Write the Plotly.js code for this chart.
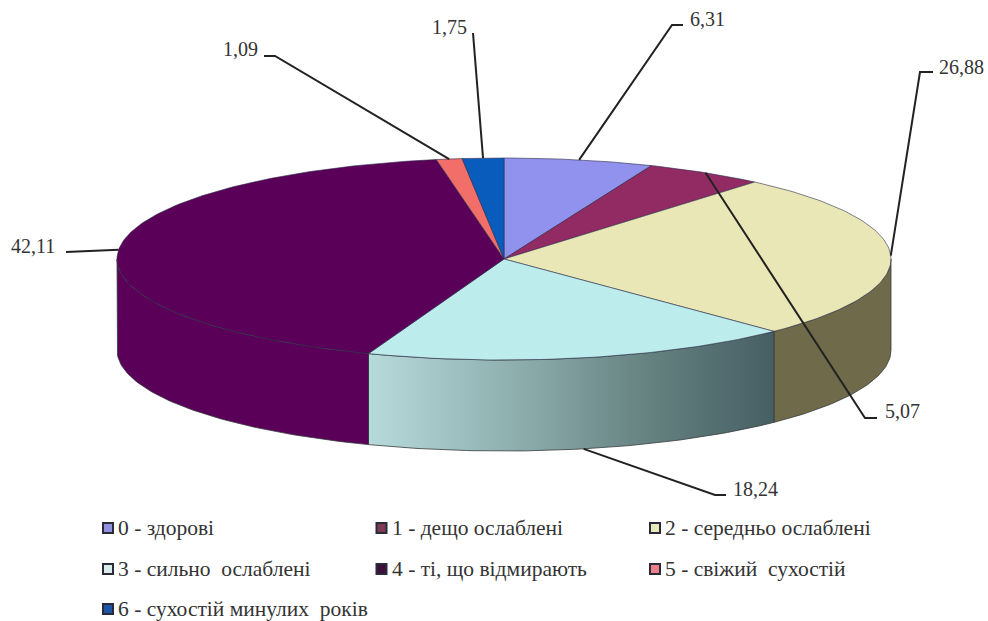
<!DOCTYPE html>
<html>
<head>
<meta charset="utf-8">
<script src="https://cdn.plot.ly/plotly-3.0.1.min.js"></script>
<style>html,body{margin:0;padding:0;background:#fff}</style>
</head>
<body>
<div id="chart" style="width:988px;height:621px"></div>
<script>
// Stand condition classes and their shares
const categories = ['0 - здорові', '1 - дещо ослаблені', '2 - середньо ослаблені',
  '3 - сильно\u00a0 ослаблені', '4 - ті, що відмирають', '5 - свіжий\u00a0 сухостій', '6 - сухостій минулих\u00a0 років'];
const shares = [6.31, 5.07, 26.88, 18.24, 42.11, 1.09, 1.75];
const shareLabels = ['6,31', '5,07', '26,88', '18,24', '42,11', '1,09', '1,75'];

// Slice colours
const topColors = ['#9191EE', '#922B63', '#E9E7B6', '#BCECEC', '#5A0059', '#F26F69', '#0A5CBC'];
const wallColors = ['#9191EE', '#922B63', '#6E6A4A', '#BCECEC', '#5A0059', '#F26F69', '#0A5CBC'];
const legendColors = ['#9090DC', '#7D3A55', '#EAEAB8', '#D8ECEC', '#3C0F3C', '#EE7F8A', '#1F55A5'];

// Disc geometry in page pixels
const cx = 504, cy = 259, rx = 387, ry = 101, depth = 91;

// Leader routes: elbow and label anchor per slice
const elbowX = [672, 865, 920, 715, 66, 275, 473];
const elbowY = [25, 418, 72, 495, 252, 56, 33];
const endX = [683, 877, 933, 726, 66, 264, 473];
const endY = [25, 418, 72, 495, 252, 56, 33];
const labelX = [688, 883, 937, 731, 57, 260, 469];
const labelY = [19, 411, 67, 489, 246, 49, 27];
const labelAnchor = ['left', 'left', 'left', 'left', 'right', 'right', 'right'];

// Legend grid
const legendCol = [108, 381.5, 655, 108, 381.5, 655, 108];
const legendRow = [528, 528, 528, 569, 569, 569, 609];

const total = shares.reduce((a, b) => a + b, 0);
const px = deg => cx + rx * Math.sin(deg * Math.PI / 180);
const py = deg => cy - ry * Math.cos(deg * Math.PI / 180);

function arc(a, b) {
  const n = Math.max(2, Math.ceil(Math.abs(b - a)));
  const out = [];
  for (let i = 0; i <= n; i++) out.push(a + (b - a) * i / n);
  return out;
}

const starts = [], ends = [];
let run = 0;
shares.forEach(v => { starts.push(run / total * 360); run += v; ends.push(run / total * 360); });

const traces = [];

// Side walls: only the part of the rim facing the viewer
shares.forEach((v, i) => {
  const a = Math.max(starts[i], 90), b = Math.min(ends[i], 270);
  if (a >= b) return;
  const rim = arc(a, b);
  const xs = rim.map(px).concat(rim.slice().reverse().map(px));
  const ys = rim.map(py).concat(rim.slice().reverse().map(d => py(d) + depth));
  const t = {
    x: xs.concat(xs[0]), y: ys.concat(ys[0]), mode: 'lines', fill: 'toself', hoverinfo: 'skip',
    showlegend: false, fillcolor: wallColors[i], line: {color: '#333a3a', width: 0.8}
  };
  if (i === 3) {
    t.fillgradient = {type: 'horizontal', colorscale: [[0, '#B7DADA'], [0.35, '#90B0B0'], [0.7, '#64807F'], [1, '#465F64']]};
  }
  traces.push(t);
});

// Top faces
shares.forEach((v, i) => {
  const rim = arc(starts[i], ends[i]);
  traces.push({
    x: [cx].concat(rim.map(px), cx), y: [cy].concat(rim.map(py), cy),
    mode: 'lines', fill: 'toself', fillcolor: topColors[i], hoverinfo: 'text',
    text: categories[i] + ': ' + shareLabels[i], showlegend: false,
    line: {color: '#2c2c4a', width: 0.6}
  });
});

// Leader lines start on the rim at each slice's middle angle
shares.forEach((v, i) => {
  const mid = (starts[i] + ends[i]) / 2;
  const onWall = i === 3;
  traces.push({
    x: [px(mid), elbowX[i], endX[i]],
    y: [py(mid) + (onWall ? depth : 0), elbowY[i], endY[i]],
    mode: 'lines', hoverinfo: 'skip', showlegend: false,
    line: {color: '#222', width: 2}
  });
});

// Legend swatches
traces.push({
  x: legendCol, y: legendRow, mode: 'markers', hoverinfo: 'skip', showlegend: false,
  marker: {symbol: 'square', size: 10, color: legendColors, line: {color: '#2a2a3a', width: 2}}
});

const font = {family: "'Liberation Serif', 'Times New Roman', serif", size: 20, color: '#333'};
const annotations = [];
shares.forEach((v, i) => {
  annotations.push({x: labelX[i], y: labelY[i], text: shareLabels[i], showarrow: false,
    xanchor: labelAnchor[i], yanchor: 'middle', font: font});
  annotations.push({x: legendCol[i] + 8, y: legendRow[i], text: categories[i], showarrow: false,
    xanchor: 'left', yanchor: 'middle', font: Object.assign({}, font, {size: 21.5})});
});

Plotly.newPlot('chart', traces, {
  width: 988, height: 621, margin: {l: 0, r: 0, t: 0, b: 0},
  paper_bgcolor: '#fff', plot_bgcolor: '#fff', showlegend: false,
  xaxis: {range: [0, 988], visible: false, fixedrange: true},
  yaxis: {range: [621, 0], visible: false, fixedrange: true},
  annotations: annotations
}, {displayModeBar: false});
</script>
</body>
</html>
